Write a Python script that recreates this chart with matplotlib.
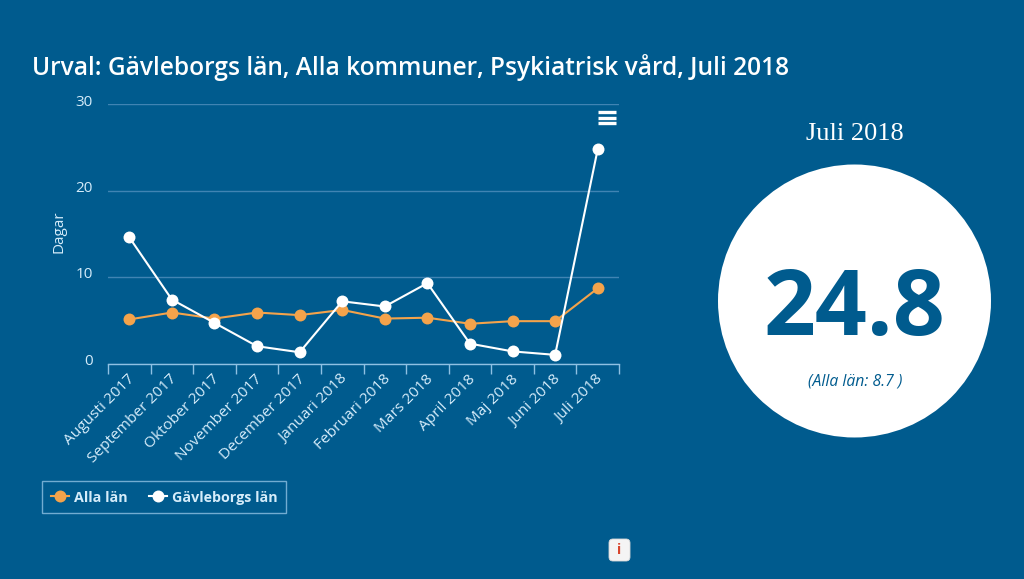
#!/usr/bin/env python3

import matplotlib
matplotlib.use("Agg")
import matplotlib.pyplot as plt
from matplotlib.patches import Circle, FancyBboxPatch
from matplotlib.transforms import ScaledTranslation

# Data
months = ["Augusti 2017", "September 2017", "Oktober 2017", "November 2017",
          "December 2017", "Januari 2018", "Februari 2018", "Mars 2018",
          "April 2018", "Maj 2018", "Juni 2018", "Juli 2018"]
alla_lan = [5.1, 5.9, 5.2, 5.9, 5.6, 6.2, 5.2, 5.3, 4.6, 4.9, 4.9, 8.7]
gavleborg = [14.6, 7.4, 4.7, 2.0, 1.3, 7.2, 6.6, 9.3, 2.3, 1.4, 1.0, 24.8]
y_ticks = [0, 10, 20, 30]

BG = "#005b8e"
ORANGE = "#f4a34b"
WHITE = "#ffffff"
TICK = "#d5ecfa"
AXIS = "#8fc1e3"
GRID = "#4084b3"

W, H = 1024, 579
plt.rcParams["font.family"] = ["Open Sans", "DejaVu Sans"]

fig = plt.figure(figsize=(W / 100, H / 100), dpi=100, facecolor=BG)

# overlay in pixel coords for the non chart parts
bg = fig.add_axes([0, 0, 1, 1])
bg.set_xlim(0, W)
bg.set_ylim(H, 0)
bg.axis("off")

bg.text(32, 68, "Urval: Gävleborgs län, Alla kommuner, Psykiatrisk vård, Juli 2018",
        color=WHITE, fontsize=17.65, fontweight=600, va="center", ha="left")

bg.add_patch(Circle((854.5, 301), 136.5, facecolor=WHITE, edgecolor="none"))
bg.text(854.5, 134, "Juli 2018", color=WHITE, fontsize=19,
        family="Liberation Serif", ha="center", va="center")
bg.text(854.5, 311, "24.8", color=BG, fontsize=65.5, fontweight="bold",
        ha="center", va="center")
bg.text(855.5, 382, "(Alla län: 8.7 )", color=BG, fontsize=11.3, style="italic",
        ha="center", va="center")

# menu icon
for y in (112, 117.5, 123):
    bg.plot([597.5, 616], [y, y], color=WHITE, lw=2.4, solid_capstyle="butt")

# info button
bg.add_patch(FancyBboxPatch((611, 541), 17, 18, boxstyle="round,pad=2,rounding_size=4",
                            facecolor="#f4f4f4", edgecolor="#d9d9d9", lw=0.6))
bg.text(619.5, 550, "i", color="#d8442c", fontsize=10, fontweight="bold",
        ha="center", va="center")

# chart
left, right, top, bottom = 108, 619, 104.3, 363.5
ax = fig.add_axes([left / W, 1 - bottom / H, (right - left) / W, (bottom - top) / H])
ax.patch.set_alpha(0)
x = list(range(len(months)))
ax.set_xlim(-0.5, len(months) - 0.5)
ax.set_ylim(0, 30)

ax.yaxis.grid(True, color=GRID, lw=1)
ax.set_axisbelow(True)
ax.plot(x, alla_lan, color=ORANGE, lw=1.5, marker="o", ms=8.6, mec="none", label="Alla län", clip_on=False)
ax.plot(x, gavleborg, color=WHITE, lw=1.5, marker="o", ms=8.6, mec="none", label="Gävleborgs län", clip_on=False)

for side in ("top", "right", "left"):
    ax.spines[side].set_visible(False)
ax.spines["bottom"].set_color(AXIS)
ax.spines["bottom"].set_linewidth(1)

ax.set_yticks(y_ticks)
ax.tick_params(axis="y", length=0, pad=11, labelcolor=TICK, labelsize=11)
up = ScaledTranslation(0, 3 / 72, fig.dpi_scale_trans)
for lab in ax.get_yticklabels():
    lab.set_transform(lab.get_transform() + up)

# ticks sit between the categories
ax.set_xticks([i - 0.5 for i in range(len(months) + 1)], minor=True)
ax.tick_params(axis="x", which="minor", length=7.2, width=1, color=AXIS, direction="out")
ax.set_xticks(x)
ax.set_xticklabels(months, rotation=45, ha="right", rotation_mode="anchor")
ax.tick_params(axis="x", which="major", length=0, pad=6, labelcolor=TICK, labelsize=11.1)
shift = ScaledTranslation(-2 / 100, 0, fig.dpi_scale_trans)
for lab in ax.get_xticklabels():
    lab.set_transform(lab.get_transform() + shift)

ax.set_ylabel("Dagar", color=TICK, fontsize=11)
ax.yaxis.set_label_coords((67 - left) / (right - left), (363.5 - 232) / (bottom - top))

leg = ax.legend(loc="upper left", bbox_to_anchor=((42 - left) / (right - left), -(481 - bottom) / (bottom - top)),
                ncol=2, frameon=True, fancybox=False, borderaxespad=0,
                handlelength=1.3, handleheight=1.2, columnspacing=1.45, handletextpad=0.35,
                borderpad=0.6, prop={"weight": "bold", "size": 10.3})
leg.get_frame().set_facecolor("none")
leg.get_frame().set_edgecolor(AXIS)
leg.get_frame().set_linewidth(1)
for t in leg.get_texts():
    t.set_color(TICK)

fig.savefig("out.png", dpi=100, facecolor=BG)
